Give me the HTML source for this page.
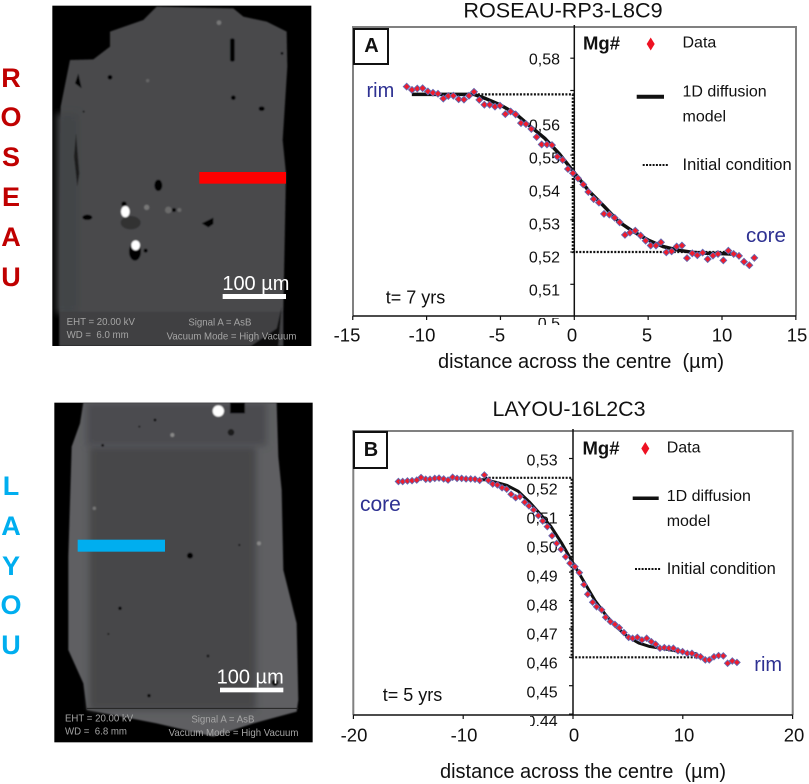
<!DOCTYPE html>
<html lang="en">
<head>
<meta charset="utf-8">
<title>Mg# diffusion profiles</title>
<style>
html,body{margin:0;padding:0;background:#fff;}
svg{display:block;font-family:"Liberation Sans",sans-serif;}
text{fill:#111;white-space:pre;}
</style>
</head>
<body>
<svg id="fig" xmlns="http://www.w3.org/2000/svg" width="809" height="784" viewBox="0 0 809 784">
<defs>
<filter id="soft" x="-5%" y="-5%" width="110%" height="110%"><feGaussianBlur stdDeviation="2"/></filter>
<filter id="softer" x="-20%" y="-20%" width="140%" height="140%"><feGaussianBlur stdDeviation="10"/></filter>
<clipPath id="clip-a"><rect x="530" y="318" width="40" height="7"/></clipPath>
<clipPath id="clip-b"><rect x="530" y="716" width="40" height="10"/></clipPath>
<clipPath id="photo-a-clip"><rect x="157" y="17" width="777" height="1021"/></clipPath>
<clipPath id="photo-b-clip"><rect x="163" y="38" width="775" height="1019"/></clipPath>
</defs>

<!-- Side letters -->
<g font-size="27" font-weight="bold" text-anchor="middle" dominant-baseline="central">
<text x="11" y="78" style="fill:#c00000">R</text>
<text x="11" y="117" style="fill:#c00000">O</text>
<text x="11" y="157" style="fill:#c00000">S</text>
<text x="11" y="197" style="fill:#c00000">E</text>
<text x="11" y="237" style="fill:#c00000">A</text>
<text x="11" y="277" style="fill:#c00000">U</text>
</g>
<g font-size="27" font-weight="bold" text-anchor="middle" dominant-baseline="central">
<text x="11" y="486" style="fill:#00aeef">L</text>
<text x="11" y="526" style="fill:#00aeef">A</text>
<text x="11" y="566" style="fill:#00aeef">Y</text>
<text x="11" y="605" style="fill:#00aeef">O</text>
<text x="11" y="645" style="fill:#00aeef">U</text>
</g>

<!-- Photo A -->
<g transform="scale(0.33333)">
<rect x="157" y="17" width="777" height="1021" fill="#000"/>
<g clip-path="url(#photo-a-clip)">
<g filter="url(#soft)">
<polygon points="470,20 700,25 730,50 800,65 860,95 862,200 848,420 858,520 850,930 835,1038 178,1038 178,700 182,320 210,180 280,178 330,140 330,95 430,60" fill="#48494c"/>
<rect x="170" y="340" width="66" height="600" fill="#434446" filter="url(#softer)"/>
<rect x="178" y="935" width="672" height="103" fill="#3f4042"/>
<rect x="690" y="115" width="14" height="70" rx="6" fill="#000"/>
<ellipse cx="475" cy="556" rx="12" ry="17" fill="#000"/>
<ellipse cx="392" cy="668" rx="30" ry="20" fill="#303133"/>
<ellipse cx="372" cy="612" rx="8" ry="8" fill="#000"/>
<ellipse cx="376" cy="635" rx="13" ry="17" fill="#fff"/>
<ellipse cx="262" cy="652" rx="15" ry="8" fill="#000"/>
<polygon points="605,670 640,653 640,672 625,682" fill="#000"/>
<ellipse cx="405" cy="755" rx="18" ry="27" fill="#000"/>
<ellipse cx="407" cy="736" rx="13" ry="15" fill="#fff"/>
<circle cx="700" cy="293" r="7" fill="#000"/>
<ellipse cx="785" cy="326" rx="9" ry="7" fill="#000"/>
<circle cx="330" cy="232" r="7" fill="#000"/>
<circle cx="522" cy="630" r="6" fill="#000"/>
<circle cx="846" cy="160" r="4" fill="#000"/>
<circle cx="437" cy="752" r="6" fill="#000"/>
<circle cx="251" cy="335" r="3" fill="#111"/>
<circle cx="440" cy="622" r="8" fill="#777"/>
<circle cx="505" cy="630" r="10" fill="#6a6a6a"/>
<circle cx="538" cy="630" r="6" fill="#6a6a6a"/>
<circle cx="657" cy="68" r="7" fill="#777"/>
<circle cx="443" cy="242" r="5" fill="#666"/>
<polygon points="225,250 235,220 245,265" fill="#000"/>
<polygon points="228,400 238,520 232,560 222,470" fill="#1c1c1c"/>
<polygon points="752,1038 830,985 845,920 835,1038" fill="#111"/>
</g>
<rect x="598" y="516" width="260" height="35" fill="#ff0000"/>
<rect x="668" y="882" width="190" height="15" fill="#fff"/>
<text x="667" y="870" font-size="60" style="fill:#fff">100 µm</text>
<g font-size="29">
<text x="200" y="975" style="fill:#a5a5a5">EHT = 20.00 kV</text>
<text x="200" y="1014" style="fill:#a5a5a5">WD =  6.0 mm</text>
<text x="565" y="977" style="fill:#a5a5a5">Signal A = AsB</text>
<text x="500" y="1018" style="fill:#a5a5a5">Vacuum Mode = High Vacuum</text>
</g>
</g>
</g>

<!-- Photo B -->
<g transform="translate(0,390) scale(0.33333)">
<rect x="163" y="38" width="775" height="1019" fill="#000"/>
<g clip-path="url(#photo-b-clip)">
<g filter="url(#soft)">
<polygon points="250,38 830,38 835,200 845,300 850,540 870,620 890,700 895,930 890,965 760,1000 640,1040 470,1000 260,960 250,880 205,780 205,500 215,170 240,100" fill="#5e5f62"/>
<rect x="268" y="170" width="500" height="790" fill="#46474a" filter="url(#softer)"/>
<rect x="260" y="38" width="540" height="130" fill="#4b4c4f" filter="url(#softer)"/>
<rect x="690" y="38" width="45" height="32" fill="#000"/>
<circle cx="655" cy="63" r="17" fill="#fff"/>
<circle cx="693" cy="127" r="10" fill="#1a1a1a"/>
<circle cx="570" cy="497" r="9" fill="#000"/>
<circle cx="517" cy="135" r="6" fill="#888"/>
<circle cx="777" cy="460" r="6" fill="#888"/>
<circle cx="283" cy="355" r="5" fill="#777"/>
<circle cx="360" cy="655" r="5" fill="#000"/>
<circle cx="447" cy="917" r="5" fill="#000"/>
<circle cx="825" cy="878" r="10" fill="#111"/>
<circle cx="308" cy="166" r="4" fill="#000"/>
<circle cx="465" cy="90" r="4" fill="#000"/>
<circle cx="418" cy="110" r="3" fill="#111"/>
<circle cx="718" cy="465" r="3" fill="#000"/>
<circle cx="624" cy="798" r="4" fill="#111"/>
<circle cx="325" cy="732" r="3" fill="#111"/>
<circle cx="238" cy="895" r="3" fill="#000"/>
</g>
<line x1="260" y1="955" x2="895" y2="955" stroke="#222" stroke-width="3"/>
<rect x="233" y="449" width="262" height="36" fill="#00aeef"/>
<rect x="660" y="893" width="190" height="14" fill="#fff"/>
<text x="650" y="880" font-size="60" style="fill:#fff">100 µm</text>
<g font-size="29">
<text x="195" y="994" style="fill:#a5a5a5">EHT = 20.00 kV</text>
<text x="195" y="1034" style="fill:#a5a5a5">WD =  6.8 mm</text>
<text x="574" y="997" style="fill:#a5a5a5">Signal A = AsB</text>
<text x="506" y="1038" style="fill:#a5a5a5">Vacuum Mode = High Vacuum</text>
</g>
</g>
</g>

<!-- Chart A static -->
<g>
<text x="563" y="10" font-size="21.600" text-anchor="middle" dominant-baseline="central">ROSEAU-RP3-L8C9</text>
<path d="M353 316V27H796V316" fill="none" stroke="#808080" stroke-width="2"/>
<rect x="354" y="29" width="34" height="35" fill="#fff" stroke="#111" stroke-width="2"/>
<text x="371.500" y="46" font-size="20" font-weight="bold" text-anchor="middle" dominant-baseline="central">A</text>
<g id="chart-a"></g>
<text x="581" y="362" font-size="20" text-anchor="middle" dominant-baseline="central">distance across the centre  (µm)</text>
<text x="583" y="43" font-size="18.500" font-weight="bold" dominant-baseline="central">Mg#</text>
<polygon points="650.700,37.500 654.700,44 650.700,50.500 646.700,44" fill="#ee1122"/>
<text x="682.500" y="43" font-size="16" dominant-baseline="central">Data</text>
<line x1="636.700" y1="96.700" x2="664" y2="96.700" stroke="#111" stroke-width="4"/>
<text x="682.500" y="92" font-size="16" dominant-baseline="central">1D diffusion</text>
<text x="682.500" y="117" font-size="16" dominant-baseline="central">model</text>
<line x1="642.700" y1="165" x2="668.300" y2="165" stroke="#111" stroke-width="2" stroke-dasharray="2 1.300"/>
<text x="682.500" y="165" font-size="16.500" dominant-baseline="central">Initial condition</text>
<text x="385.700" y="297.500" font-size="18" dominant-baseline="central">t= 7 yrs</text>
<text x="366.500" y="97" font-size="20" style="fill:#2e3192">rim</text>
<text x="746" y="242" font-size="20.500" style="fill:#2e3192">core</text>
</g>

<!-- Chart B static -->
<g>
<text x="569" y="409" font-size="21.400" text-anchor="middle" dominant-baseline="central">LAYOU-16L2C3</text>
<path d="M353.300 715V431H792.700V715" fill="none" stroke="#808080" stroke-width="2"/>
<rect x="354" y="432" width="33" height="36" fill="#fff" stroke="#111" stroke-width="2"/>
<text x="371" y="450" font-size="20" font-weight="bold" text-anchor="middle" dominant-baseline="central">B</text>
<g id="chart-b"></g>
<text x="583" y="772" font-size="20" text-anchor="middle" dominant-baseline="central">distance across the centre  (µm)</text>
<text x="582.500" y="448" font-size="18.500" font-weight="bold" dominant-baseline="central">Mg#</text>
<polygon points="645.300,442 649.300,448.500 645.300,455 641.300,448.500" fill="#ee1122"/>
<text x="666.700" y="448" font-size="16" dominant-baseline="central">Data</text>
<line x1="632.700" y1="498.300" x2="658.700" y2="498.300" stroke="#111" stroke-width="3.500"/>
<text x="666.700" y="496.500" font-size="16" dominant-baseline="central">1D diffusion</text>
<text x="666.700" y="521.500" font-size="16" dominant-baseline="central">model</text>
<line x1="635" y1="569" x2="660.700" y2="569" stroke="#111" stroke-width="2" stroke-dasharray="2 1.300"/>
<text x="666.700" y="569" font-size="16.500" dominant-baseline="central">Initial condition</text>
<text x="382.700" y="695" font-size="18" dominant-baseline="central">t= 5 yrs</text>
<text x="360" y="511" font-size="21" style="fill:#2e3192">core</text>
<text x="754.300" y="671" font-size="20" style="fill:#2e3192">rim</text>
</g>
</svg>

<script>
const roseauX = [-11.35,-10.99,-10.63,-10.27,-9.91,-9.57,-9.23,-8.87,-8.53,-8.19,-7.83,-7.47,-7.13,-6.79,-6.43,-6.09,-5.73,-5.37,-5.03,-4.67,-4.31,-3.97,-3.61,-3.27,-2.91,-2.55,-2.21,-1.85,-1.51,-1.15,-0.79,-0.43,-0.09,0.25,0.61,0.95,1.31,1.67,2.01,2.37,2.73,3.07,3.43,3.77,4.13,4.49,4.83,5.17,5.53,5.87,6.23,6.59,6.93,7.29,7.63,7.99,8.33,8.69,9.03,9.39,9.73,10.09,10.43,10.79,11.15,11.49,11.85,12.19];
const roseauMg = [.5712,.5702,.5706,.5707,.5697,.5693,.5690,.5675,.5683,.5684,.5673,.5672,.5684,.5696,.5671,.5656,.5656,.5650,.5653,.5627,.5635,.5626,.5599,.5596,.5581,.5556,.5533,.5533,.5531,.5495,.5485,.5457,.5444,.5428,.5409,.5386,.5364,.5353,.5318,.5316,.5306,.5292,.5253,.5260,.5266,.5251,.5235,.5220,.5220,.5230,.5199,.5202,.5217,.5220,.5181,.5196,.5190,.5198,.5178,.5189,.5194,.5174,.5204,.5194,.5188,.5170,.5159,.5182];
const roseauModelX = [-11,-6.8,-6,-5,-4,-3,-2,-1,0,1,2,3,4,5,6,7,8,9,10,11];
const roseauModelMg = [.5688,.5688,.5675,.5655,.5629,.5590,.5552,.5503,.5446,.5388,.5342,.5294,.5263,.5237,.5217,.5206,.5199,.5196,.5195,.5193];
const roseauInitX = [-7,-0.1,-0.1,10.5];
const roseauInitMg = [.5688,.5688,.52,.52];
const roseauXTicks = [-15,-10,-5,0,5,10,15];
const roseauYTicks = [0.58,0.57,0.56,0.55,0.54,0.53,0.52,0.51];
const roseauYLabels = ['0,58','0,56','0,55','0,54','0,53','0,52','0,51','0,5'];
const roseauYLabelValues = [0.58,0.56,0.55,0.54,0.53,0.52,0.51,0.50];

const layouX = [-15.90,-15.51,-15.08,-14.66,-14.23,-13.84,-13.41,-13.02,-12.59,-12.20,-11.78,-11.38,-10.96,-10.56,-10.14,-9.74,-9.32,-8.92,-8.50,-8.07,-7.71,-7.31,-6.89,-6.46,-6.04,-5.64,-5.22,-4.83,-4.40,-4.01,-3.58,-3.16,-2.76,-2.34,-1.91,-1.49,-1.09,-0.67,-0.27,0.18,0.58,1.00,1.34,1.79,2.15,2.61,2.97,3.40,3.82,4.22,4.64,5.07,5.43,5.86,6.28,6.71,7.13,7.53,7.92,8.32,8.74,9.14,9.56,9.98,10.41,10.83,11.26,11.62,12.05,12.41,12.84,13.26,13.69,14.08,14.51,14.93];
const layouMg = [.5219,.5219,.5221,.5222,.5224,.5233,.5227,.5227,.5230,.5231,.5228,.5224,.5234,.5230,.5230,.5228,.5228,.5227,.5223,.5242,.5223,.5210,.5207,.5197,.5192,.5174,.5162,.5166,.5146,.5133,.5119,.5099,.5080,.5060,.5028,.5001,.4980,.4954,.4931,.4919,.4898,.4856,.4822,.4794,.4778,.4767,.4741,.4726,.4716,.4704,.4687,.4670,.4667,.4670,.4661,.4667,.4655,.4646,.4632,.4634,.4632,.4632,.4623,.4620,.4614,.4614,.4606,.4602,.4591,.4591,.4602,.4606,.4605,.4579,.4587,.4582];
const layouModelX = [-9,-8,-7,-6,-5,-4,-3,-2,-1,0,1,2,3,4,5,6,7,8,9,10,11.3];
const layouModelMg = [.5225,.5225,.5216,.5205,.5185,.5148,.5105,.5060,.5000,.4932,.4866,.4800,.4748,.4705,.4672,.4650,.4638,.4632,.4625,.4618,.4612];
const layouInitX = [-8,-0.12,-0.12,12];
const layouInitMg = [.5232,.5232,.46,.46];
const layouXTicks = [-20,-10,0,10,20];
const layouYTicks = [0.53,0.52,0.51,0.50,0.49,0.48,0.47,0.46,0.45,0.44];
const layouYLabels = ['0,53','0,52','0,51','0,50','0,49','0,48','0,47','0,46','0,45','0,44'];
const layouYLabelValues = [0.53,0.52,0.51,0.50,0.49,0.48,0.47,0.46,0.45,0.44];

const NS = 'http://www.w3.org/2000/svg';
function mk(parent, tag, attrs) {
  const el = document.createElementNS(NS, tag);
  for (const k in attrs) el.setAttribute(k, attrs[k]);
  parent.appendChild(el);
  return el;
}

function drawChart(root, prefix, cfg, xs, ys, modelX, modelY, initX, initY, xTicks, yTicks, yLabels, yLabelValues) {
  const sx = v => cfg.x0 + v * cfg.xk;
  const sy = v => cfg.yRef - (v - cfg.vRef) * cfg.yk;
  const labelY = v => cfg.labelRef + (cfg.labelV - v) * cfg.labelK;
  const labelX = v => cfg.tickLabelCenter + v * cfg.tickLabelK;

  const yAxis = mk(root, 'line', {x1: sx(0), x2: sx(0), y1: cfg.axisTop, y2: cfg.axisBottom, stroke: '#111', 'stroke-width': 1.5});
  
  

  const xAxis = mk(root, 'line', {x1: cfg.left, x2: cfg.right, y1: cfg.axisBottom, y2: cfg.axisBottom, stroke: '#111', 'stroke-width': 1.5});
  
  

  xTicks.forEach(v => {
    const t = mk(root, 'line', {x1: sx(v), x2: sx(v), y1: cfg.axisBottom, y2: cfg.axisBottom + 4, stroke: '#111', 'stroke-width': 1.2});
    
    
    const l = mk(root, 'text', {x: labelX(v), y: cfg.tickLabelY, 'font-size': 18.5, 'text-anchor': 'middle', 'dominant-baseline': 'central'});
    l.textContent = String(v);
    
    
  });

  yTicks.forEach(v => {
    const t = mk(root, 'line', {x1: sx(0) - 4, x2: sx(0), y1: sy(v), y2: sy(v), stroke: '#111', 'stroke-width': 1.2});
    
    
  });

  yLabels.forEach((s, i) => {
    const attrs = {x: cfg.yLabelRight, y: labelY(yLabelValues[i]), 'font-size': 16, 'text-anchor': 'end', 'dominant-baseline': 'central'};
    if (i === yLabels.length - 1) attrs['clip-path'] = 'url(#' + cfg.clip + ')';
    const l = mk(root, 'text', attrs);
    l.textContent = s;
    
    
  });

  const init = mk(root, 'polyline', {points: initX.map((v, i) => sx(v) + ',' + sy(initY[i])).join(' '), fill: 'none', stroke: '#111', 'stroke-width': 2.2, 'stroke-dasharray': '2 1.500'});
  
  

  const model = mk(root, 'polyline', {points: modelX.map((v, i) => sx(v) + ',' + sy(modelY[i])).join(' '), fill: 'none', stroke: '#111', 'stroke-width': cfg.modelWidth, 'stroke-linejoin': 'round'});
  
  

  xs.forEach((v, i) => {
    const cx = sx(v), cy = sy(ys[i]), r = cfg.marker;
    const p = mk(root, 'polygon', {points: cx + ',' + (cy - r) + ' ' + (cx + r) + ',' + cy + ' ' + cx + ',' + (cy + r) + ' ' + (cx - r) + ',' + cy, fill: '#f01c2c', stroke: '#6468b0', 'stroke-width': 0.9});
    
    
  });
}

drawChart(document.getElementById('chart-a'), 'roseau',
  {x0: 574.3, xk: 14.77, yRef: 252, vRef: 0.52, yk: 3230, left: 353, right: 796, axisTop: 25, axisBottom: 316,
   labelRef: 60, labelV: 0.58, labelK: 3300, tickLabelCenter: 572, tickLabelK: 15, tickLabelY: 335, yLabelRight: 560, clip: 'clip-a', marker: 3.4, modelWidth: 3.5},
  roseauX, roseauMg, roseauModelX, roseauModelMg, roseauInitX, roseauInitMg, roseauXTicks, roseauYTicks, roseauYLabels, roseauYLabelValues);

drawChart(document.getElementById('chart-b'), 'layou',
  {x0: 573, xk: 10.98, yRef: 657.3, vRef: 0.46, yk: 2840, left: 353.3, right: 792.7, axisTop: 429, axisBottom: 715,
   labelRef: 461, labelV: 0.53, labelK: 2900, tickLabelCenter: 574, tickLabelK: 11, tickLabelY: 735, yLabelRight: 557.7, clip: 'clip-b', marker: 3.2, modelWidth: 3},
  layouX, layouMg, layouModelX, layouModelMg, layouInitX, layouInitMg, layouXTicks, layouYTicks, layouYLabels, layouYLabelValues);
</script>
</body>
</html>
